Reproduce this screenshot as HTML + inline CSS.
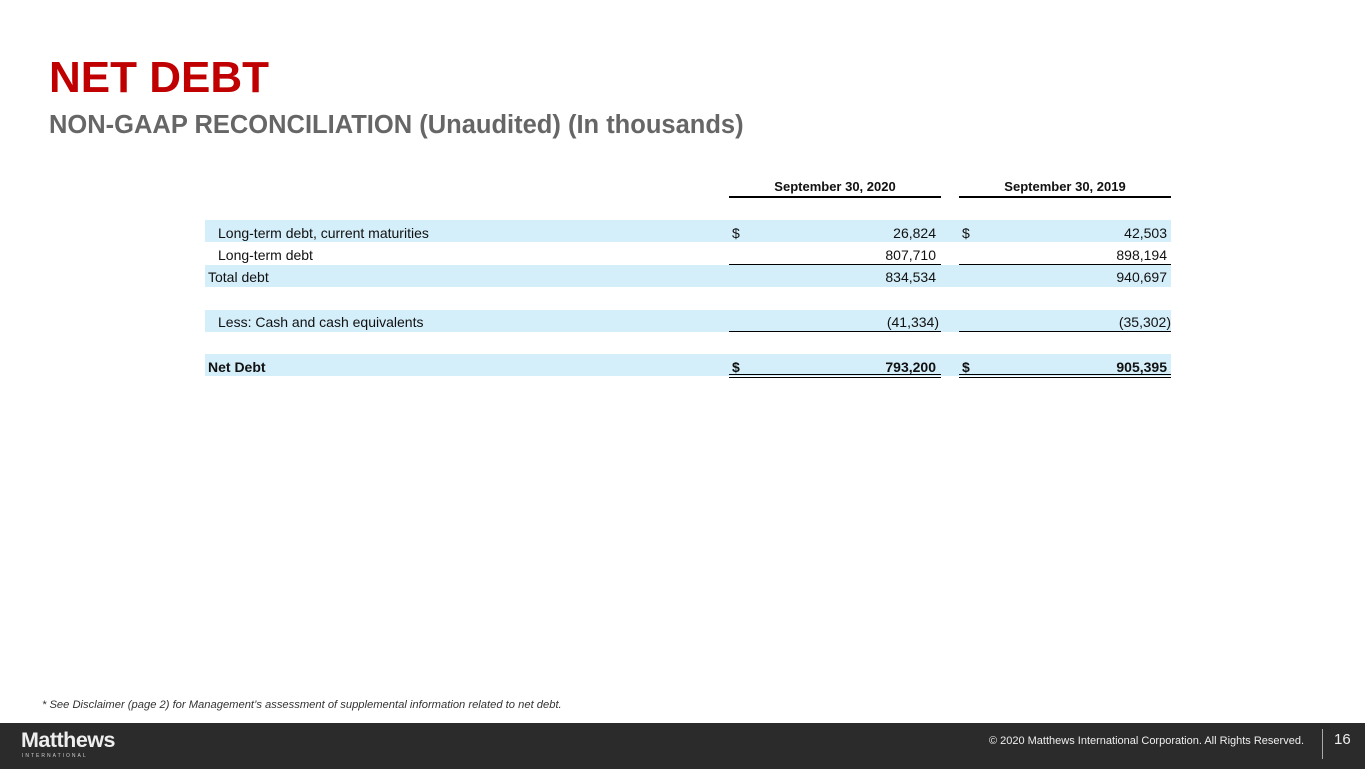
<!DOCTYPE html>
<html><head><meta charset="utf-8"><style>
body{margin:0;width:1365px;height:769px;position:relative;background:#fff;font-family:"Liberation Sans",Arial,sans-serif;overflow:hidden}
.a{position:absolute}
.bg{position:absolute;left:205px;width:966px;background:#d4eefa}
.t{position:absolute;font-size:14px;color:#111;line-height:16px;white-space:nowrap}
.r{text-align:right}
.ln{position:absolute;height:1px;background:#000}
</style></head><body>
<div class="a" style="left:49px;top:55px;font-size:44px;font-weight:bold;color:#c00000;line-height:46px">NET DEBT</div>
<div class="a" style="left:49px;top:110px;font-size:25.5px;font-weight:bold;color:#666;line-height:30px;white-space:nowrap">NON-GAAP RECONCILIATION (Unaudited) (In thousands)</div>

<div class="t" style="left:729px;width:212px;top:179px;text-align:center;font-weight:bold;font-size:13px">September 30, 2020</div>
<div class="t" style="left:959px;width:212px;top:179px;text-align:center;font-weight:bold;font-size:13px">September 30, 2019</div>
<div class="ln" style="left:729px;width:212px;top:196px;height:2px"></div>
<div class="ln" style="left:959px;width:212px;top:196px;height:2px"></div>

<div class="bg" style="top:220px;height:22px"></div>
<div class="bg" style="top:265px;height:22px"></div>
<div class="bg" style="top:310px;height:22px"></div>
<div class="bg" style="top:354px;height:22px"></div>

<div class="t" style="left:218px;top:225px">Long-term debt, current maturities</div>
<div class="t" style="left:732px;top:225px">$</div><div class="t r" style="left:800px;width:136px;top:225px">26,824</div>
<div class="t" style="left:962px;top:225px">$</div><div class="t r" style="left:1030px;width:137px;top:225px">42,503</div>

<div class="t" style="left:218px;top:247px">Long-term debt</div>
<div class="t r" style="left:800px;width:136px;top:247px">807,710</div>
<div class="t r" style="left:1030px;width:137px;top:247px">898,194</div>
<div class="ln" style="left:729px;width:212px;top:264px"></div>
<div class="ln" style="left:959px;width:212px;top:264px"></div>

<div class="t" style="left:208px;top:269px">Total debt</div>
<div class="t r" style="left:800px;width:136px;top:269px">834,534</div>
<div class="t r" style="left:1030px;width:137px;top:269px">940,697</div>

<div class="t" style="left:218px;top:314px">Less: Cash and cash equivalents</div>
<div class="t r" style="left:800px;width:139px;top:314px">(41,334)</div>
<div class="t r" style="left:1030px;width:141px;top:314px">(35,302)</div>
<div class="ln" style="left:729px;width:212px;top:331px"></div>
<div class="ln" style="left:959px;width:212px;top:331px"></div>

<div class="t" style="left:208px;top:359px;font-weight:bold">Net Debt</div>
<div class="t" style="left:732px;top:359px;font-weight:bold">$</div><div class="t r" style="left:800px;width:136px;top:359px;font-weight:bold">793,200</div>
<div class="t" style="left:962px;top:359px;font-weight:bold">$</div><div class="t r" style="left:1030px;width:137px;top:359px;font-weight:bold">905,395</div>
<div class="ln" style="left:729px;width:212px;top:374px"></div>
<div class="ln" style="left:729px;width:212px;top:377px"></div>
<div class="ln" style="left:959px;width:212px;top:374px"></div>
<div class="ln" style="left:959px;width:212px;top:377px"></div>

<div class="a" style="left:42px;top:699px;font-size:11.2px;font-style:italic;color:#333;white-space:nowrap">* See Disclaimer (page 2) for Management’s assessment of supplemental information related to net debt.</div>

<div class="a" style="left:0;top:723px;width:1365px;height:46px;background:#2b2b2b"></div>
<div class="a" style="left:21px;top:728px;font-size:21.5px;font-weight:bold;color:#eee;letter-spacing:-0.5px">Matthews</div>
<div class="a" style="left:22px;top:753px;font-size:5px;color:#ccc;letter-spacing:2px">INTERNATIONAL</div>
<div class="a" style="left:976px;top:735px;font-size:11px;color:#eee;width:328px;text-align:right">© 2020 Matthews International Corporation. All Rights Reserved.</div>
<div class="a" style="left:1322px;top:729px;width:1px;height:30px;background:#aaa"></div>
<div class="a" style="left:1334px;top:731px;font-size:15px;color:#eee">16</div>
</body></html>
